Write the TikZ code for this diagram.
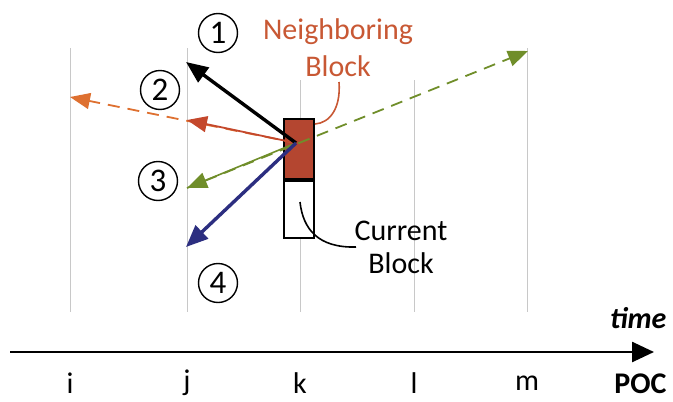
\documentclass[tikz,border=0pt]{standalone}
\usepackage{fontspec}
\setmainfont{Carlito}
\usetikzlibrary{arrows.meta}

\definecolor{blockred}{RGB}{180,70,48}
\definecolor{nbtext}{RGB}{200,88,52}
\definecolor{mvred}{RGB}{196,72,44}
\definecolor{mvorange}{RGB}{222,112,48}
\definecolor{mvgreen}{RGB}{112,142,42}
\definecolor{mvblue}{RGB}{44,46,128}
\definecolor{gridgray}{RGB}{200,200,200}

\begin{document}
\begin{tikzpicture}[x=1pt,y=-1pt,
	mv/.style={-{Triangle[length=20pt,width=16pt]}},
	mvbig/.style={-{Triangle[length=22pt,width=18pt]},line width=3.4pt},
	num/.style={draw,circle,line width=1.4pt,minimum size=39pt,inner sep=0pt,font=\fontsize{33}{33}\selectfont},
	lbl/.style={font=\fontsize{30}{37}\selectfont},
	axlbl/.style={font=\fontsize{30}{30}\selectfont}]
		\useasboundingbox (0,0) rectangle (673,402);

		% one line per picture
		\foreach \x/\p/\t in {70/i/48,187/j/48,300/k/80,414/l/80,527/m/48}{
			\draw[gridgray,line width=1pt] (\x,\t) -- (\x,312);
			\node[axlbl] (poc-\p) at (\x,383) {\p};
		}

		% time axis
		\coordinate (ax0) at (10,352);
		\coordinate (ax1) at (654,352);
		\draw[line width=2.6pt,-{Triangle[length=22pt,width=20pt]}] (ax0) -- (ax1);
		\node[font=\fontsize{30}{30}\selectfont\bfseries\itshape,anchor=east] (time) at (670,318) {time};
		\node[font=\fontsize{30}{30}\selectfont\bfseries,anchor=east] (poc) at (670,384) {POC};

		% neighbouring and current block
		\node[draw,line width=2pt,fill=blockred,minimum width=30pt,minimum height=60pt,inner sep=0pt] (nb) at (299,149) {};
		\node[draw,line width=2pt,fill=white,minimum width=30pt,minimum height=57pt,inner sep=0pt,anchor=north] (cur) at (nb.south) {};

		% motion vectors
		\coordinate (o) at (296,143);
		\coordinate (t1) at (186,62);
		\coordinate (t2) at (187,120);
		\coordinate (t2i) at (70,97);
		\coordinate (t3) at (187,188);
		\coordinate (t3m) at (528,51);
		\coordinate (t4) at (186,247);

		\draw[mv,mvorange,line width=1.8pt,dash pattern=on 12pt off 8pt] (o) -- (t2i);
		\draw[mv,mvgreen,line width=1.8pt,dash pattern=on 12pt off 8pt] (t3) -- (t3m);
		\draw[mv,mvred,line width=1.8pt] (o) -- (t2);
		\draw[mv,mvgreen,line width=1.6pt] (o) -- (t3);
		\draw[mvbig,black] (o) -- (t1);
		\draw[mvbig,mvblue] (o) -- (t4);

		\node[num] (n1) at (218,33) {1};
		\node[num] (n2) at (160,90) {2};
		\node[num] (n3) at (158,181) {3};
		\node[num] (n4) at (218,283) {4};

		% labels with their hooks
		\node[lbl,text=nbtext,align=center] (nbtxt) at (338,48) {Neighboring\\Block};
		\coordinate (nbtail) at (339,82);
		\draw[nbtext,line width=1.6pt] (nbtail) .. controls (341,108) and (330,123) .. ([yshift=-6pt]nb.north east);

		\node[lbl,font=\fontsize{30}{33}\selectfont,align=center] (curtxt) at (401,247) {Current\\Block};
		\coordinate (curin) at (300,202);
		\coordinate (curtail) at (356,247);
		\draw[line width=1.6pt] (curin) .. controls (303,229) and (318,248) .. (curtail);
	\end{tikzpicture}
\end{document}
